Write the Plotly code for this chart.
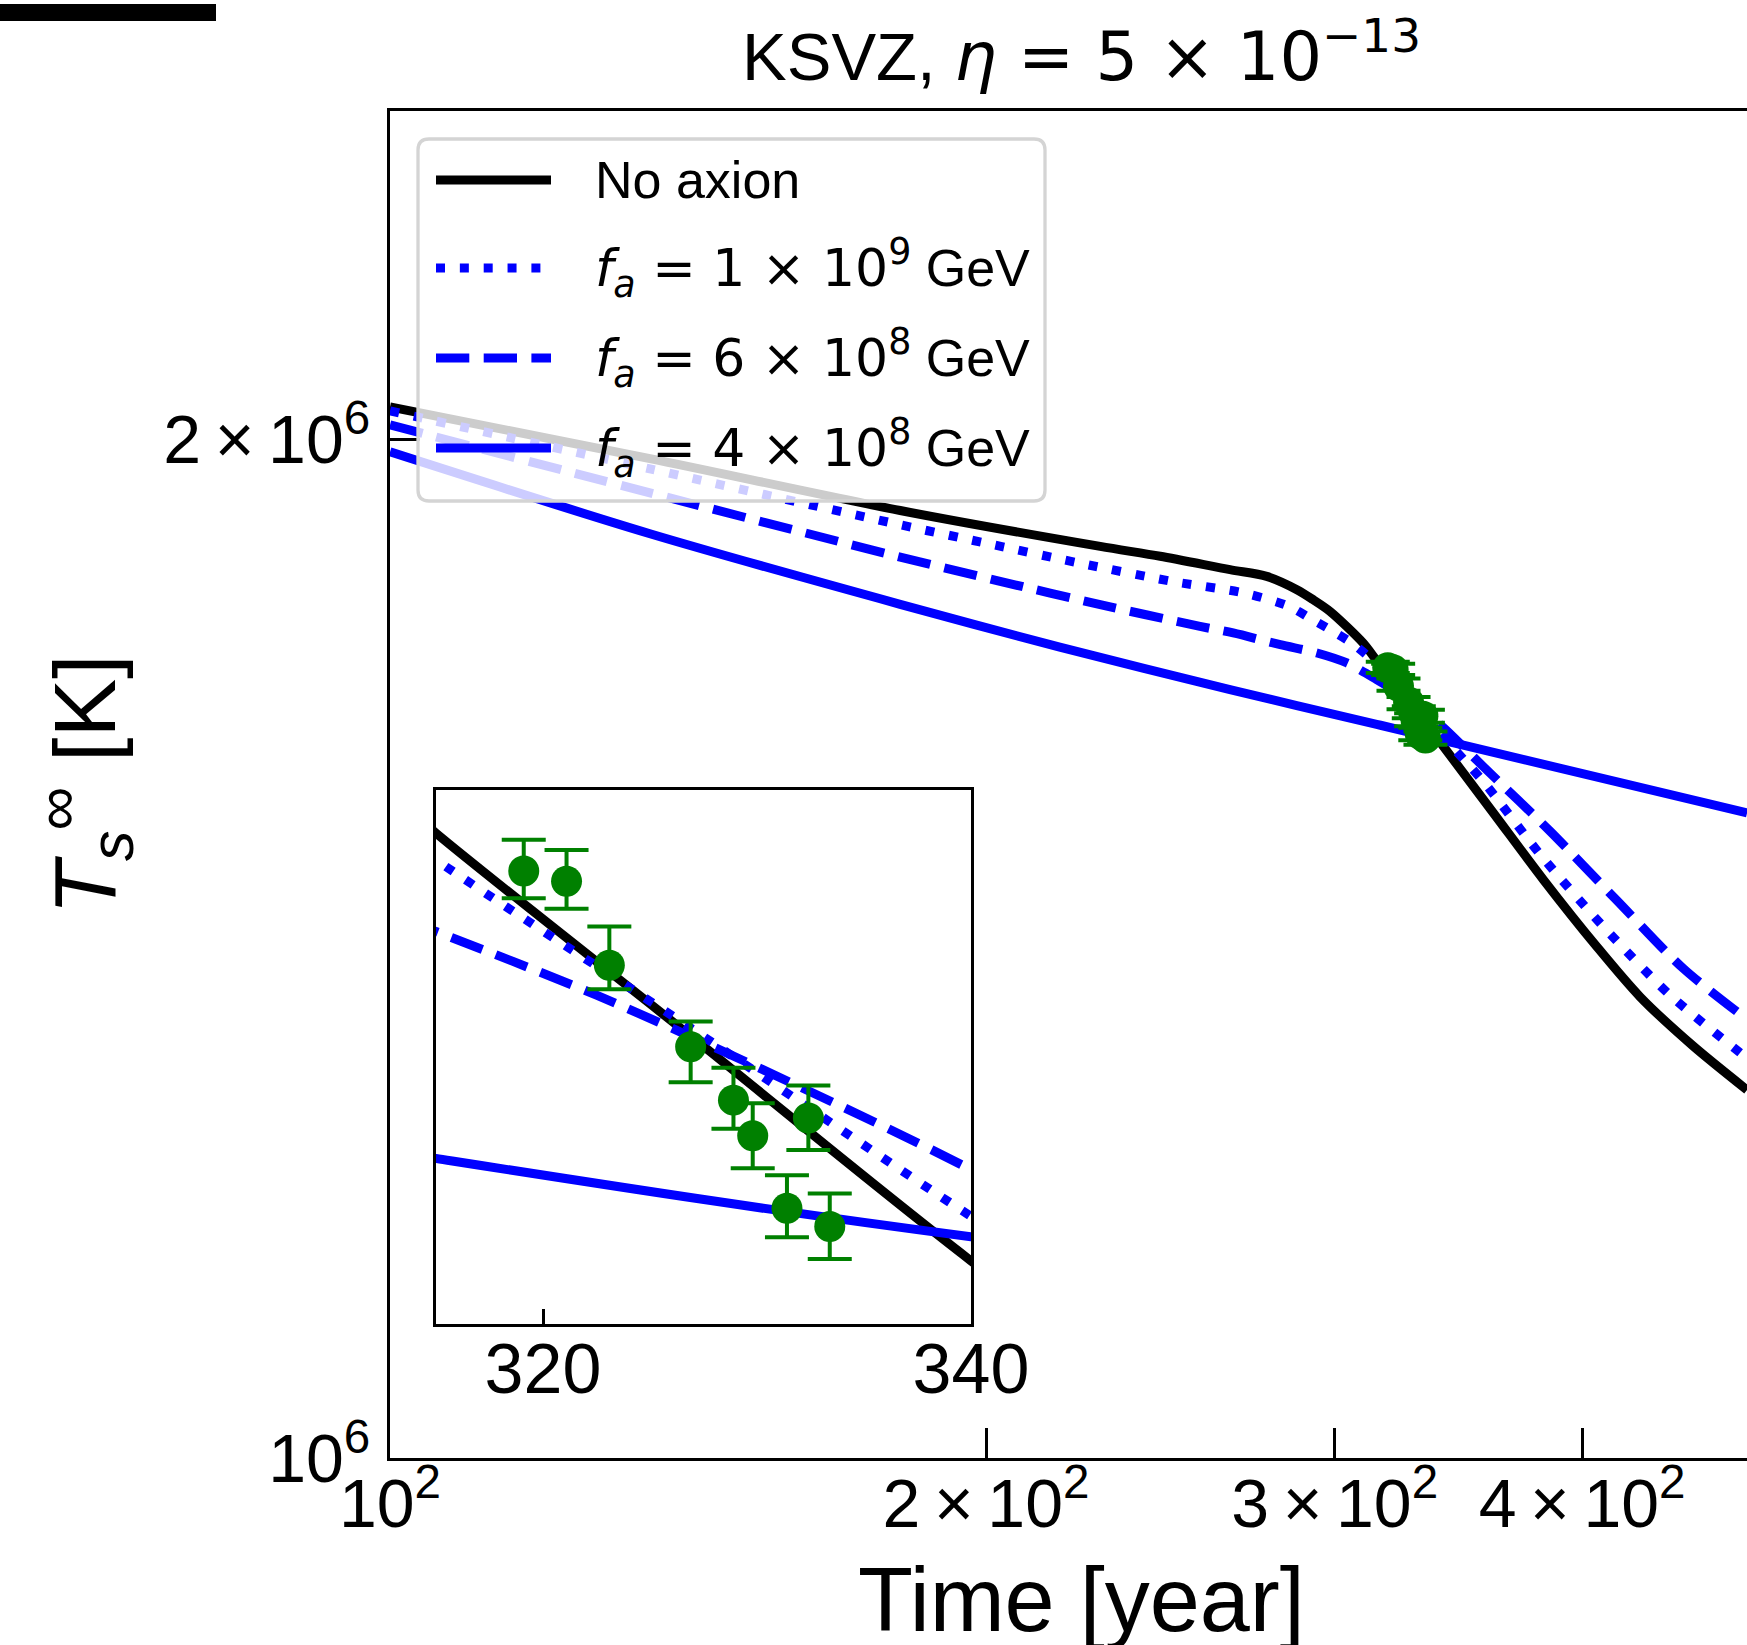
import math
import plotly.graph_objects as go

# ---------------- data ----------------
# No axion
t_none = [100, 135.3, 181.0, 228.4, 244.9, 265.6, 277.2, 287.1, 292.6, 298.4, 310.1,
          315.0, 327.5, 340.0, 360.8, 382.4, 406.9, 427.9, 455.0, 484.6]
T_none = [2.0442e6, 1.9736e6, 1.9051e6, 1.8591e6, 1.8467e6, 1.8299e6, 1.8216e6, 1.8052e6,
          1.7929e6, 1.7787e6, 1.7409e6, 1.7203e6, 1.6724e6, 1.6242e6, 1.5508e6, 1.4820e6,
          1.4160e6, 1.3685e6, 1.3237e6, 1.2845e6]

# f_a = 1e9 GeV
t_fa1e9 = [100, 135.3, 181.0, 199.8, 222.7, 248.2, 269.8, 284.4, 291.4, 298.4, 306.0,
           311.9, 315.0, 326.9, 340.0, 356.6, 381.7, 410.9, 443.1, 484.6]
T_fa1e9 = [2.0387e6, 1.9598e6, 1.8867e6, 1.8634e6, 1.8384e6, 1.8155e6, 1.8012e6, 1.7849e6,
           1.7707e6, 1.7567e6, 1.7409e6, 1.7251e6, 1.7143e6, 1.6765e6, 1.6342e6, 1.5843e6,
           1.5056e6, 1.4335e6, 1.3701e6, 1.3125e6]

# f_a = 6e8 GeV
t_fa6e8 = [100, 135.3, 181.0, 203.3, 228.4, 256.5, 266.6, 281.6, 293.9, 304.3, 315.0,
           322.5, 330.3, 340.0, 356.6, 385.4, 416.5, 450.0, 484.6]
T_fa6e8 = [2.0193e6, 1.9281e6, 1.8457e6, 1.8155e6, 1.7869e6, 1.7607e6, 1.7528e6, 1.7389e6,
           1.7291e6, 1.7174e6, 1.6982e6, 1.6839e6, 1.6671e6, 1.6447e6, 1.6005e6, 1.5316e6,
           1.4613e6, 1.3951e6, 1.3477e6]

# f_a = 4e8 GeV
t_fa4e8 = [100, 135.3, 181.0, 217.9, 265.6, 315.0, 340.0, 484.6]
T_fa4e8 = [1.9826e6, 1.8752e6, 1.7873e6, 1.7360e6, 1.6865e6, 1.6472e6, 1.6296e6, 1.5508e6]

# observations
t_obs = [319.1, 321.1, 323.1, 326.9, 328.9, 329.8, 331.4, 332.4, 333.4]
T_obs = [1.7118e6, 1.7095e6, 1.6906e6, 1.6723e6, 1.6603e6, 1.6523e6, 1.6360e6, 1.6563e6, 1.6319e6]
err_up = [7.0e3, 7.0e3, 8.7e3, 5.7e3, 7.3e3, 7.3e3, 7.4e3, 7.3e3, 7.4e3]
err_dn = [6.1e3, 6.2e3, 5.4e3, 8.0e3, 6.4e3, 7.3e3, 6.5e3, 7.2e3, 7.3e3]

MATH = '<span style="font-family:DejaVu Sans">'
labels = ["No axion",
          f"{MATH}<i>f</i><sub><i>a</i></sub> = 1 × 10<sup>9</sup></span> GeV",
          f"{MATH}<i>f</i><sub><i>a</i></sub> = 6 × 10<sup>8</sup></span> GeV",
          f"{MATH}<i>f</i><sub><i>a</i></sub> = 4 × 10<sup>8</sup></span> GeV"]
title_text = f"KSVZ, {MATH}<i>η</i> = 5 × 10<sup>−13</sup></span>"

x_tickvals = [100, 200, 300, 400]
x_ticktext = ["10<sup>2</sup>", "2\u2009×\u200910<sup>2</sup>", "3\u2009×\u200910<sup>2</sup>",
              "4\u2009×\u200910<sup>2</sup>"]
y_tickvals = [1e6, 2e6]
y_ticktext = ["10<sup>6</sup>", "2\u2009×\u200910<sup>6</sup>"]
inset_xticks = [320, 340]

# ---------------- layout geometry ----------------
W, H = 1747, 1645
L, R, TOP, BOT = 390, 1747, 111, 1458
PW, PH = R - L, BOT - TOP
PX_PER_DEC_X = 1980.0


def xp(px):
    return (px - L) / PW


def yp(py):
    return (BOT - py) / PH


FONT = "Liberation Sans, Arial, Helvetica, sans-serif"
DOT = "9px,14.85px"
DASH = "33.3px,14.4px"
LW = 9

curves = [
    (t_none, T_none, "black", "solid"),
    (t_fa1e9, T_fa1e9, "blue", DOT),
    (t_fa6e8, T_fa6e8, "blue", DASH),
    (t_fa4e8, T_fa4e8, "blue", "solid"),
]

fig = go.Figure()

for xa, ya in (("x", "y"), ("x2", "y2")):
    for t, T, col, dash in curves:
        fig.add_trace(go.Scatter(x=t, y=T, mode="lines", xaxis=xa, yaxis=ya,
                                 line=dict(color=col, width=LW, dash=dash,
                                           shape="spline", smoothing=0.8),
                                 showlegend=False, hoverinfo="skip"))
    fig.add_trace(go.Scatter(x=t_obs, y=T_obs, mode="markers", xaxis=xa, yaxis=ya,
                             marker=dict(color="green", size=31, line=dict(width=0)),
                             error_y=dict(type="data", symmetric=False, array=err_up,
                                          arrayminus=err_dn, color="green",
                                          thickness=4, width=22),
                             showlegend=False, hoverinfo="skip"))

axis_common = dict(showgrid=False, zeroline=False, showline=True, linecolor="black",
                   automargin=False, tickcolor="black", color="black")

fig.update_layout(
    width=W, height=H,
    margin=dict(l=L, r=W - R, t=TOP, b=H - BOT, pad=0),
    template="none",
    paper_bgcolor="white", plot_bgcolor="white",
    showlegend=False,
    font=dict(family=FONT, color="black", size=70),
    xaxis=dict(type="log", range=[2, 2 + PW / PX_PER_DEC_X], domain=[0, 1], anchor="y",
               linewidth=3.3, mirror=True, ticks="inside", ticklen=30, tickwidth=3,
               tickvals=x_tickvals, ticktext=x_ticktext, tickfont=dict(size=68, family=FONT),
               ticklabelstandoff=-16, **axis_common),
    yaxis=dict(type="log", range=[6, math.log10(2.5e6)], domain=[0, 1], anchor="x",
               linewidth=3.3, mirror=False, ticks="inside", ticklen=30, tickwidth=3,
               tickvals=y_tickvals, ticktext=y_ticktext, tickfont=dict(size=68, family=FONT),
               ticklabelstandoff=3, **axis_common),
    xaxis2=dict(range=[315, 340], domain=[xp(436), xp(971)], anchor="y2",
                linewidth=3, mirror=True, ticks="inside", ticklen=15, tickwidth=3,
                tickvals=inset_xticks, tickfont=dict(size=70, family=FONT),
                ticklabelstandoff=-18, **axis_common),
    yaxis2=dict(range=[1.61e6, 1.73e6], domain=[yp(1324), yp(790)], anchor="x2",
                linewidth=3, mirror=True, ticks="", showticklabels=False, **axis_common),
)

shapes = []
# stray black bar at top-left of the picture
shapes.append(dict(type="rect", xref="paper", yref="paper", x0=xp(0), x1=xp(216),
                   y0=yp(21), y1=yp(4), fillcolor="black", line=dict(width=0), layer="above"))

# legend frame (rounded, semi-transparent)
bx0, bx1, by0, by1 = xp(418), xp(1045), yp(501), yp(139)
rx, ry = 11 / PW, 11 / PH
path = (f"M {bx0+rx},{by1} L {bx1-rx},{by1} Q {bx1},{by1} {bx1},{by1-ry} "
        f"L {bx1},{by0+ry} Q {bx1},{by0} {bx1-rx},{by0} L {bx0+rx},{by0} "
        f"Q {bx0},{by0} {bx0},{by0+ry} L {bx0},{by1-ry} Q {bx0},{by1} {bx0+rx},{by1} Z")
shapes.append(dict(type="path", xref="paper", yref="paper", path=path,
                   fillcolor="rgba(255,255,255,0.8)", line=dict(color="#d4d4d4", width=3.3),
                   layer="above"))

leg_y = [180, 268, 358, 448]
annotations = []
for (t, T, col, dash), lab, yc in zip(curves, labels, leg_y):
    shapes.append(dict(type="line", xref="paper", yref="paper", x0=xp(436), x1=xp(551),
                       y0=yp(yc), y1=yp(yc), line=dict(color=col, width=LW, dash=dash),
                       layer="above"))
    annotations.append(dict(xref="paper", yref="paper", x=xp(593), y=yp(yc), text=lab,
                            showarrow=False, xanchor="left", yanchor="middle",
                            font=dict(size=52, family=FONT, color="black")))

annotations.append(dict(xref="paper", yref="paper", x=xp(1081), y=yp(52),
                        text=title_text, showarrow=False,
                        xanchor="center", yanchor="middle",
                        font=dict(size=67, family=FONT, color="black")))
annotations.append(dict(xref="paper", yref="paper", x=xp(1081), y=yp(1600),
                        text="Time [year]", showarrow=False, xanchor="center",
                        yanchor="middle", font=dict(size=90, family=FONT, color="black")))
annotations.append(dict(xref="paper", yref="paper", x=xp(84), y=yp(785),
                        text="<i>T</i><sub><i>s</i></sub><sup>∞</sup> [K]", textangle=-90,
                        showarrow=False, xanchor="center", yanchor="middle",
                        font=dict(size=88, family=FONT, color="black")))

fig.update_layout(shapes=shapes, annotations=annotations)
fig.write_html("out.html")
